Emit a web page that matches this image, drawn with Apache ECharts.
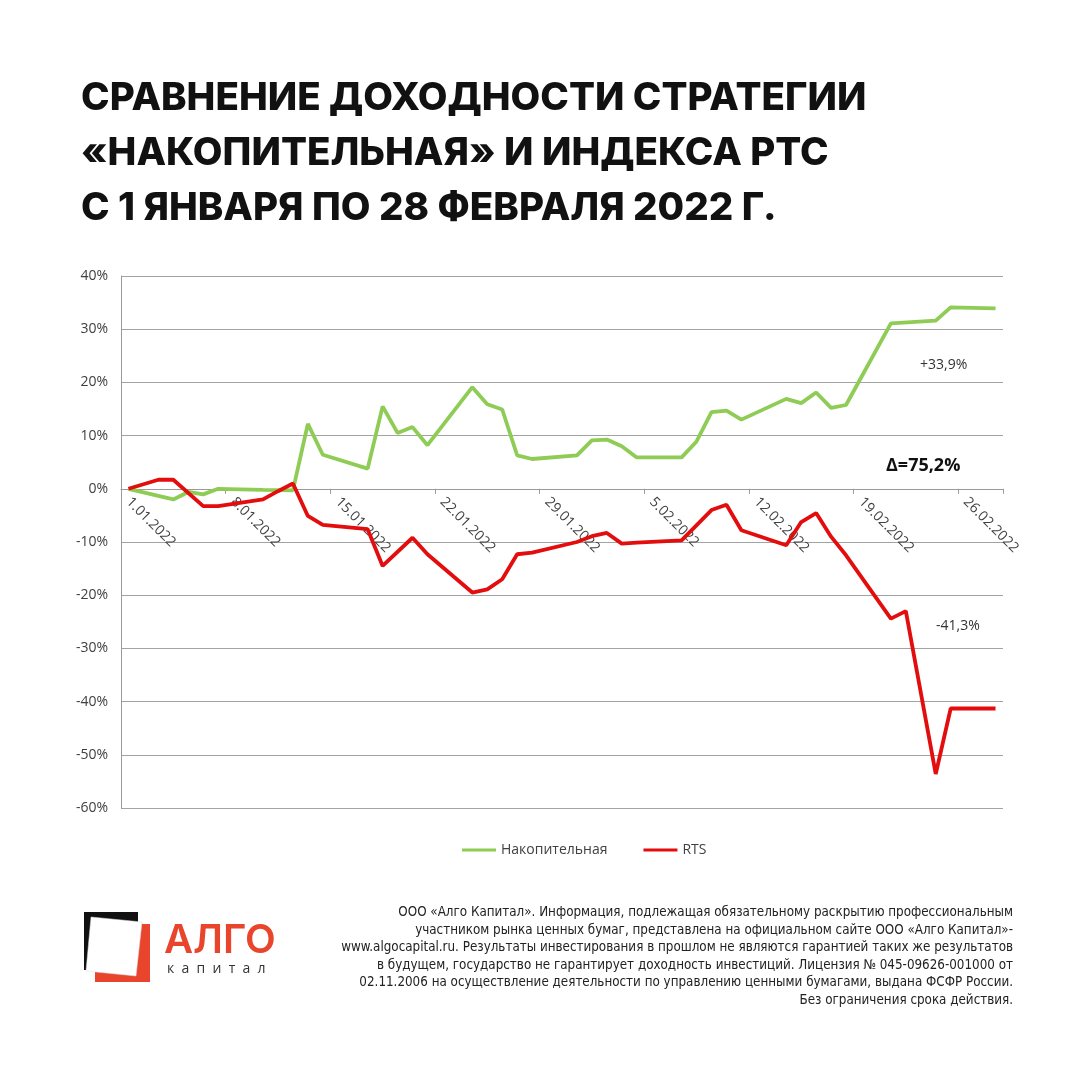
<!DOCTYPE html>
<html>
<head>
<meta charset="utf-8">
<script src="https://cdn.jsdelivr.net/npm/echarts@6/dist/echarts.min.js"></script>
<style>html,body{margin:0;padding:0;background:#fff;}#c{width:1080px;height:1080px;}</style>
</head>
<body>
<div id="c"></div>
<script>
const categories = [
 '1.01.2022','2.01.2022','3.01.2022','4.01.2022','5.01.2022','6.01.2022','7.01.2022',
 '8.01.2022','9.01.2022','10.01.2022','11.01.2022','12.01.2022','13.01.2022','14.01.2022',
 '15.01.2022','16.01.2022','17.01.2022','18.01.2022','19.01.2022','20.01.2022','21.01.2022',
 '22.01.2022','23.01.2022','24.01.2022','25.01.2022','26.01.2022','27.01.2022','28.01.2022',
 '29.01.2022','30.01.2022','31.01.2022','1.02.2022','2.02.2022','3.02.2022','4.02.2022',
 '5.02.2022','6.02.2022','7.02.2022','8.02.2022','9.02.2022','10.02.2022','11.02.2022',
 '12.02.2022','13.02.2022','14.02.2022','15.02.2022','16.02.2022','17.02.2022','18.02.2022',
 '19.02.2022','20.02.2022','21.02.2022','22.02.2022','23.02.2022','24.02.2022','25.02.2022',
 '26.02.2022','27.02.2022','28.02.2022'
];
const nakopitelnaya = [
 0, null, null, -2.0, -0.6, -1.05, 0,
 null, null, -0.2, -0.25, -0.3, 12.2, 6.4,
 null, null, 3.8, 15.5, 10.5, 11.6, 8.2,
 null, null, 19.1, 15.9, 14.9, 6.3, 5.6,
 null, null, 6.3, 9.1, 9.25, 8.0, 5.9,
 null, null, 5.9, 8.9, 14.4, 14.7, 13.0,
 null, null, 16.9, 16.1, 18.1, 15.2, 15.75,
 null, null, 31.1, null, null, 31.6, 34.1,
 null, null, 33.9
];
const rts = [
 0, null, 1.7, 1.7, null, -3.25, -3.25,
 null, null, -2.0, -0.45, 1.0, -5.1, -6.8,
 null, null, -7.6, -14.5, null, -9.2, -12.3,
 null, null, -19.5, -18.9, -17.0, -12.3, -12.0,
 null, null, -10.0, -8.9, -8.3, -10.3, -10.1,
 null, null, -9.7, null, -4.0, -3.0, -7.8,
 null, null, -10.6, -6.25, -4.55, -9.0, -12.5,
 null, null, -24.4, -23.0, null, -53.6, -41.3,
 null, null, -41.3
];
const seriesNames = ['Накопительная', 'RTS'];
const titleLines = ['СРАВНЕНИЕ ДОХОДНОСТИ СТРАТЕГИИ', '«НАКОПИТЕЛЬНАЯ» И ИНДЕКСА РТС', 'С 1 ЯНВАРЯ ПО 28 ФЕВРАЛЯ 2022 Г.'];
const footerLines = [
 'ООО «Алго Капитал». Информация, подлежащая обязательному раскрытию профессиональным',
 'участником рынка ценных бумаг, представлена на официальном сайте ООО «Алго Капитал»-',
 'www.algocapital.ru. Результаты инвестирования в прошлом не являются гарантией таких же результатов',
 'в будущем, государство не гарантирует доходность инвестиций. Лицензия № 045-09626-001000 от',
 '02.11.2006 на осуществление деятельности по управлению ценными бумагами, выдана ФСФР России.',
 'Без ограничения срока действия.'
];

const GREEN = '#8fcc55';
const RED = '#e30d0d';
const chart = echarts.init(document.getElementById('c'));
chart.setOption({
  backgroundColor: '#ffffff',
  animation: false,
  title: {
    text: titleLines.join('\n'),
    left: 76, top: 66,
    textStyle: { fontFamily: 'Inter', fontWeight: 800, fontSize: 38.5, lineHeight: 55, color: '#111' }
  },
  legend: {
    data: seriesNames,
    left: 457, top: 838,
    itemWidth: 34, itemHeight: 3, itemGap: 36,
    icon: 'rect',
    textStyle: { fontFamily: 'Open Sans', fontSize: 14, color: '#404040' }
  },
  grid: { left: 121, right: 77, top: 276, bottom: 272, containLabel: false },
  xAxis: {
    type: 'category',
    data: categories,
    boundaryGap: true,
    offset: -319.2,
    axisLine: { onZero: false, lineStyle: { color: '#9a9a9a', width: 1 } },
    axisTick: { show: true, interval: 6, length: 5, lineStyle: { color: '#9a9a9a' } },
    axisLabel: { interval: 6, rotate: -45, margin: 11, fontFamily: 'Open Sans', fontSize: 14, color: '#404040' },
    splitLine: { show: false }
  },
  yAxis: {
    type: 'value',
    min: -60, max: 40, interval: 10,
    axisLine: { show: true, lineStyle: { color: '#9a9a9a', width: 1 } },
    axisTick: { show: false },
    axisLabel: { formatter: '{value}%', margin: 13, fontFamily: 'Open Sans', fontSize: 14, color: '#404040' },
    splitLine: { lineStyle: { color: '#a3a3a3', width: 1 } }
  },
  series: [
    { name: seriesNames[0], type: 'line', data: nakopitelnaya, connectNulls: true, showSymbol: false, symbol: 'none',
      lineStyle: { color: GREEN, width: 3.8 }, itemStyle: { color: GREEN }, z: 3 },
    { name: seriesNames[1], type: 'line', data: rts, connectNulls: true, showSymbol: false, symbol: 'none',
      lineStyle: { color: RED, width: 3.8 }, itemStyle: { color: RED }, z: 4 }
  ],
  graphic: [
    { type: 'text', left: 920, top: 358, style: { text: '+33,9%', font: '14px "Open Sans"', fill: '#333' } },
    { type: 'text', left: 886, top: 457, style: { text: 'Δ=75,2%', font: 'bold 18px "Open Sans"', fill: '#111' } },
    { type: 'text', left: 936, top: 619, style: { text: '-41,3%', font: '14px "Open Sans"', fill: '#333' } },
    { type: 'text', x: 1013, y: 904, style: { text: footerLines.join('\n'), font: '13.3px "DejaVu Sans Condensed", "DejaVu Sans"', fill: '#222', lineHeight: 17.5, align: 'right', textAlign: 'right', verticalAlign: 'top', textVerticalAlign: 'top' } },
    // logo
    { type: 'rect', shape: { x: 84, y: 912, width: 54, height: 58 }, style: { fill: '#111' } },
    { type: 'rect', shape: { x: 95, y: 924, width: 55, height: 58 }, style: { fill: '#e8452c' } },
    { type: 'polygon', shape: { points: [[91, 917], [142, 922], [136, 976], [86, 971]] }, style: { fill: '#ffffff', stroke: '#dddddd', lineWidth: 0.5 } },
    { type: 'text', left: 164, top: 921, style: { text: 'АЛГО', font: '600 40px Inter', fill: '#e8452c' } },
    { type: 'text', left: 167, top: 962, style: { text: 'к  а  п  и  т  а  л', font: '14px "Open Sans"', fill: '#333' } }
  ]
});
</script>
</body>
</html>
